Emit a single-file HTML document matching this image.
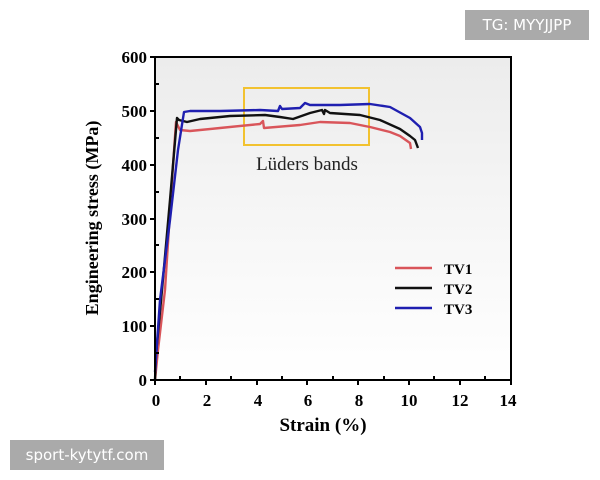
<!DOCTYPE html>
<html><head><meta charset="utf-8"><style>
body{margin:0;width:600px;height:480px;background:#fff;overflow:hidden;position:relative}
.wm{position:absolute;background:#aaa;color:#fff;font-family:"DejaVu Sans","Liberation Sans",sans-serif;font-size:15px;line-height:30px;text-align:center}
</style></head><body>
<svg width="600" height="480" style="position:absolute;left:0;top:0" font-family="Liberation Serif, serif">
<defs><linearGradient id="g" x1="0" y1="0" x2="0" y2="1">
<stop offset="0" stop-color="#ececec"/><stop offset="0.6" stop-color="#f8f8f8"/><stop offset="1" stop-color="#ffffff"/></linearGradient></defs>
<rect x="155" y="57" width="356" height="323" fill="url(#g)"/>
<rect x="244" y="88" width="125" height="57" fill="none" stroke="#f2c230" stroke-width="2"/>
<text x="307" y="170" font-size="19" text-anchor="middle" fill="#222">Lüders bands</text>
<g fill="none" stroke-width="2.4" stroke-linejoin="round">
<polyline stroke="#d9555a" points="155,380 158,350 165,290 172,180 176,122 180,130 190,131 220,128 260,124 263,121 264,128 300,125 320,122 350,123 370,127 390,132 400,136 410,143 411,149"/>
<polyline stroke="#111" points="155,380 156,355 162,290 170,200 177,118 179,120 187,122 200,119 230,116 265,115 280,117 293,119 310,113 322,110 324,114 325,110 330,113 360,115 380,120 400,129 410,136 415,140 418,148"/>
<polyline stroke="#1f1fb0" points="155,372 160,300 170,220 178,150 184,112 190,111 220,111 260,110 278,111 280,106 282,109 300,108 305,103 310,105 340,105 370,104 390,107 410,118 420,127 422,133 422,140"/>
</g>
<rect x="155" y="57" width="356" height="323" fill="none" stroke="#000" stroke-width="2"/>
<g stroke="#000" stroke-width="2">
<line x1="155" y1="380" x2="155" y2="385"/><line x1="206" y1="380" x2="206" y2="385"/><line x1="257" y1="380" x2="257" y2="385"/><line x1="307" y1="380" x2="307" y2="385"/><line x1="358" y1="380" x2="358" y2="385"/><line x1="409" y1="380" x2="409" y2="385"/><line x1="460" y1="380" x2="460" y2="385"/><line x1="511" y1="380" x2="511" y2="385"/>
<line x1="180" y1="380" x2="180" y2="376"/><line x1="231" y1="380" x2="231" y2="376"/><line x1="282" y1="380" x2="282" y2="376"/><line x1="333" y1="380" x2="333" y2="376"/><line x1="384" y1="380" x2="384" y2="376"/><line x1="434" y1="380" x2="434" y2="376"/><line x1="485" y1="380" x2="485" y2="376"/>
<line x1="150" y1="380" x2="155" y2="380"/><line x1="150" y1="326" x2="155" y2="326"/><line x1="150" y1="272" x2="155" y2="272"/><line x1="150" y1="219" x2="155" y2="219"/><line x1="150" y1="165" x2="155" y2="165"/><line x1="150" y1="111" x2="155" y2="111"/><line x1="150" y1="57" x2="155" y2="57"/>
<line x1="155" y1="353" x2="159" y2="353"/><line x1="155" y1="299" x2="159" y2="299"/><line x1="155" y1="245" x2="159" y2="245"/><line x1="155" y1="192" x2="159" y2="192"/><line x1="155" y1="138" x2="159" y2="138"/><line x1="155" y1="84" x2="159" y2="84"/>
</g>
<g font-size="17" font-weight="bold" text-anchor="end">
<text x="147" y="386">0</text><text x="147" y="332">100</text><text x="147" y="278">200</text><text x="147" y="225">300</text><text x="147" y="171">400</text><text x="147" y="117">500</text><text x="147" y="63">600</text>
</g>
<g font-size="17" font-weight="bold" text-anchor="middle">
<text x="156" y="406">0</text><text x="207" y="406">2</text><text x="258" y="406">4</text><text x="308" y="406">6</text><text x="359" y="406">8</text><text x="409" y="406">10</text><text x="460" y="406">12</text><text x="508" y="406">14</text>
</g>
<text x="323" y="431" font-size="19" font-weight="bold" text-anchor="middle">Strain (%)</text>
<text transform="translate(98,218) rotate(-90)" font-size="18" font-weight="bold" text-anchor="middle">Engineering stress (MPa)</text>
<g stroke-width="2.4"><line x1="395" y1="268" x2="432" y2="268" stroke="#d9555a"/><line x1="395" y1="288" x2="432" y2="288" stroke="#111"/><line x1="395" y1="308" x2="432" y2="308" stroke="#1f1fb0"/></g>
<g font-size="15" font-weight="bold"><text x="444" y="274">TV1</text><text x="444" y="294">TV2</text><text x="444" y="314">TV3</text></g>
</svg>
<div class="wm" style="left:465px;top:10px;width:124px;height:30px">TG: MYYJJPP</div>
<div class="wm" style="left:10px;top:440px;width:154px;height:30px">sport-kytytf.com</div>
</body></html>
